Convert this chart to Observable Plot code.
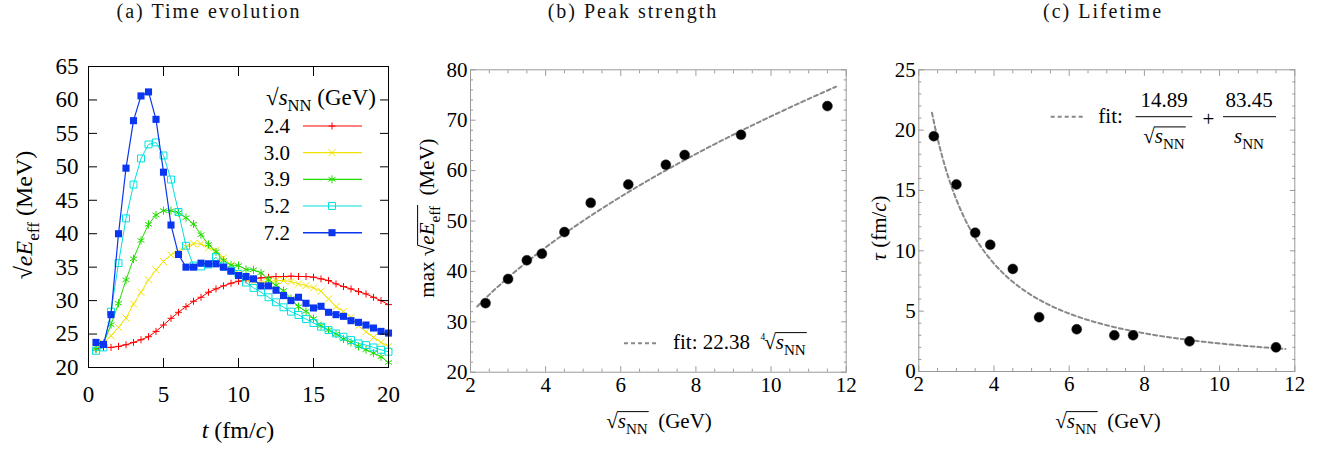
<!DOCTYPE html>
<html><head><meta charset="utf-8">
<script src="https://cdn.jsdelivr.net/npm/d3@7"></script>
<script src="https://cdn.jsdelivr.net/npm/@observablehq/plot@0.6"></script>
<style>
html,body{margin:0;padding:0;background:#fff;}
#root{position:relative;width:1334px;height:453px;overflow:hidden;font-family:"Liberation Serif","DejaVu Serif",serif;}
.title{position:absolute;top:0px;font-size:20px;letter-spacing:2px;transform:translateX(-50%);white-space:nowrap;color:#111;font-family:"Liberation Serif","DejaVu Serif",serif;}
.panel{position:absolute;top:0;}
#overlay{position:absolute;left:0;top:0;pointer-events:none;}
</style></head><body><div id="root"></div>
<script>
// ---------- data ----------
const tValues = [0.5,1,1.5,2,2.5,3,3.5,4,4.5,5,5.5,6,6.5,7,7.5,8,8.5,9,9.5,10,10.5,11,11.5,12,12.5,13,13.5,14,14.5,15,15.5,16,16.5,17,17.5,18,18.5,19,19.5,20];
const energies = ["2.4","3.0","3.9","5.2","7.2"];
const field24 = [22.75,23.0,23.0,23.15,23.4,23.75,24.15,24.6,25.4,26.35,27.35,28.25,29.1,29.9,30.5,31.25,31.75,32.2,32.6,32.9,33.1,33.25,33.4,33.5,33.6,33.6,33.65,33.6,33.6,33.5,33.25,33.0,32.5,32.1,31.75,31.35,31.0,30.5,30.0,29.4];
const field30 = [23.0,23.6,24.75,26.0,27.4,29.5,31.25,33.1,34.6,35.85,36.85,37.4,38.0,38.5,38.5,37.9,37.5,36.4,35.3,34.1,33.2,32.8,32.7,32.85,33.0,33.0,32.85,32.5,32.25,31.9,31.4,30.25,29.1,28.35,27.5,26.25,25.35,24.5,23.75,23.15];
const field39 = [22.75,23.6,26.4,29.6,33.1,36.25,39.0,41.4,42.8,43.45,43.45,43.15,42.4,41.45,39.85,38.4,37.3,36.0,35.3,35.25,34.65,34.6,34.15,33.1,32.3,31.5,30.3,29.1,28.4,27.3,26.25,25.6,25.0,24.25,23.75,23.15,22.65,22.15,21.6,20.75];
const field52 = [22.5,23.0,28.35,35.6,42.3,47.35,51.25,53.35,53.65,51.7,48.1,43.25,38.2,35.25,35.1,35.4,36.5,35.1,34.5,34.0,32.7,31.9,31.25,30.5,29.75,29.0,28.35,27.85,27.25,26.65,26.1,25.6,25.1,24.6,24.1,23.6,23.35,23.0,22.65,22.35];
const field72 = [23.75,23.45,27.9,40.0,49.8,56.9,60.6,61.2,57.1,49.2,41.3,36.9,35.0,35.0,35.6,35.5,35.5,35.0,34.4,33.75,33.6,33.25,32.2,32.2,31.55,30.75,30.0,30.5,29.6,28.9,29.15,28.25,27.9,27.65,27.0,26.75,26.35,25.9,25.4,25.15];
const fields = [field24, field30, field39, field52, field72];

const sqrtS = [2.4,3.0,3.5,3.9,4.5,5.2,6.2,7.2,7.7,9.2,11.5];
const maxField = [33.7,38.5,42.2,43.5,47.8,53.6,57.25,61.15,63.1,67.1,72.8];
const lifetime = [19.5,15.5,11.5,10.5,8.5,4.5,3.5,3.0,3.0,2.5,2.0];

const fitPeakCoef = 22.38;            // 22.38 * (s_NN)^(1/4)
const fitLifeCoefA = 14.89, fitLifeCoefB = 83.45; // 14.89/sqrt(s_NN) + 83.45/s_NN
const fitRangeB = [2.18, 11.73];
const fitRangeC = [2.35, 11.75];

const xTicksA = [0,5,10,15,20];
const yTicksA = [20,25,30,35,40,45,50,55,60,65];
const xTicksBC = [2,4,6,8,10,12];
const yTicksB = [20,30,40,50,60,70,80];
const yTicksC = [0,5,10,15,20,25];
const titles = ["(a) Time evolution","(b) Peak strength","(c) Lifetime"];

// ---------- styles ----------
const SERIF = "'Liberation Serif','DejaVu Serif',serif";
const NB = "\u00a0";
const colors = ["#ff0000","#f0e200","#22dd00","#00e0e0","#0a36f2"];
const symbols = ["plus","times","asterisk","square","square"];
const radii = [2.4,3.3,3.8,3.9,4.0];

const root = document.getElementById("root");

function ticksOnly(axis, anchor, ticks, size, stroke) {
  const o = {anchor, ticks, tickSize: size, fill: "none", stroke, label: null, strokeWidth: 1};
  if (axis === "x") { o.dy = anchor === "bottom" ? -size : size; return Plot.axisX(o); }
  o.dx = anchor === "left" ? size : -size; return Plot.axisY(o);
}

// ---------- panel A ----------
const rowsA = energies.flatMap((e, k) => tValues.map((t, i) => ({t, v: fields[k][i], e})));
const marksA = [];
energies.forEach((e, k) => {
  const d = rowsA.filter(r => r.e === e);
  marksA.push(Plot.line(d, {x: "t", y: "v", stroke: colors[k], strokeWidth: k === 4 ? 1.2 : 1}));
  if (k === 4) marksA.push(Plot.dot(d, {x: "t", y: "v", symbol: "square", r: radii[k], fill: colors[k], stroke: "none"}));
  else marksA.push(Plot.dot(d, {x: "t", y: "v", symbol: symbols[k], r: radii[k], fill: "none", stroke: colors[k], strokeWidth: 1}));
});
const plotA = Plot.plot({
  width: 400, height: 453,
  marginLeft: 88, marginRight: 12, marginTop: 66, marginBottom: 86,
  x: {domain: [0, 20]}, y: {domain: [20, 65]},
  style: {fontFamily: SERIF, fontSize: "23px", color: "black", background: "transparent", overflow: "visible"},
  marks: [
    ...marksA,
    Plot.frame({stroke: "black", strokeWidth: 1}),
    ticksOnly("x", "bottom", xTicksA, 9, "black"),
    ticksOnly("x", "top", xTicksA, 9, "black"),
    ticksOnly("y", "left", yTicksA, 9, "black"),
    ticksOnly("y", "right", yTicksA, 9, "black"),
    Plot.axisX({ticks: xTicksA, tickSize: 0, tickPadding: 18, label: null}),
    Plot.axisY({ticks: yTicksA, tickSize: 0, tickPadding: 10, label: null})
  ]
});
plotA.classList.add("panel"); plotA.style.left = "0px";
root.appendChild(plotA);

// ---------- panel B ----------
const minorX = d3.range(5, 24).filter(i => i % 4 !== 0).map(i => i / 2);
const minorYB = d3.range(22, 80, 2).filter(v => v % 10 !== 0);
const minorYC = d3.range(1, 25).filter(v => v % 5 !== 0);
const GRAY = "#9a9a9a";
const rowsB = sqrtS.map((s, i) => ({s, v: maxField[i]}));
const fitB = d3.range(fitRangeB[0], fitRangeB[1] + 1e-9, 0.05).map(s => ({s, v: fitPeakCoef * Math.sqrt(s)}));
function frameMarks(yMajor, yMinor) {
  return [
    Plot.frame({stroke: GRAY, strokeWidth: 1}),
    ticksOnly("x", "bottom", xTicksBC, 5.5, GRAY), ticksOnly("x", "top", xTicksBC, 5.5, GRAY),
    ticksOnly("x", "bottom", minorX, 3, GRAY), ticksOnly("x", "top", minorX, 3, GRAY),
    ticksOnly("y", "left", yMajor, 5.5, GRAY), ticksOnly("y", "right", yMajor, 5.5, GRAY),
    ticksOnly("y", "left", yMinor, 3, GRAY), ticksOnly("y", "right", yMinor, 3, GRAY),
    Plot.axisX({ticks: xTicksBC, tickSize: 0, tickPadding: 5, label: null}),
    Plot.axisY({ticks: yMajor, tickSize: 0, tickPadding: 3, label: null})
  ];
}
const plotB = Plot.plot({
  width: 460, height: 453,
  marginLeft: 70, marginRight: 14.3, marginTop: 69.3, marginBottom: 81.3,
  x: {domain: [2, 12]}, y: {domain: [20, 80]},
  style: {fontFamily: SERIF, fontSize: "21px", color: "black", background: "transparent", overflow: "visible"},
  marks: [
    Plot.line(fitB, {x: "s", y: "v", stroke: "#888", strokeWidth: 2, strokeDasharray: "4,3"}),
    Plot.dot(rowsB, {x: "s", y: "v", r: 5, fill: "#000", stroke: "#333", strokeWidth: 0.5}),
    ...frameMarks(yTicksB, minorYB)
  ]
});
plotB.classList.add("panel"); plotB.style.left = "400px";
root.appendChild(plotB);

// ---------- panel C ----------
const rowsC = sqrtS.map((s, i) => ({s, v: lifetime[i]}));
const fitC = d3.range(fitRangeC[0], fitRangeC[1] + 1e-9, 0.05).map(s => ({s, v: fitLifeCoefA / s + fitLifeCoefB / (s * s)}));
const plotC = Plot.plot({
  width: 474, height: 453,
  marginLeft: 58.3, marginRight: 39.7, marginTop: 69.3, marginBottom: 82,
  x: {domain: [2, 12]}, y: {domain: [0, 25]},
  style: {fontFamily: SERIF, fontSize: "21px", color: "black", background: "transparent", overflow: "visible"},
  marks: [
    Plot.line(fitC, {x: "s", y: "v", stroke: "#888", strokeWidth: 2, strokeDasharray: "4,3"}),
    Plot.dot(rowsC, {x: "s", y: "v", r: 5, fill: "#000", stroke: "#333", strokeWidth: 0.5}),
    ...frameMarks(yTicksC, minorYC)
  ]
});
plotC.classList.add("panel"); plotC.style.left = "860px";
root.appendChild(plotC);

// ---------- titles ----------
[209, 633, 1103].forEach((cx, i) => {
  const d = document.createElement("div");
  d.className = "title"; d.style.left = cx + "px"; d.textContent = titles[i];
  root.appendChild(d);
});

// ---------- overlay text (labels, legends) ----------
const ov = d3.select(root).append("svg").attr("id", "overlay").attr("width", 1334).attr("height", 453);

function richText(x, y, parts, {size = 21, anchor = "middle", rotate = 0} = {}) {
  const g = ov.append("g").attr("transform", `translate(${x},${y}) rotate(${rotate})`);
  const text = g.append("text").attr("text-anchor", anchor).attr("font-family", SERIF)
    .attr("font-size", size).attr("fill", "#000");
  let shift = 0, idx = 0; const ranges = [];
  for (const p of parts) {
    const ts = text.append("tspan").text(p.t);
    let target = 0, fs = size;
    if (p.sub) { target = size * 0.28; fs = size * 0.72; }
    if (p.sup) { target = -size * 0.45; fs = size * 0.45; }
    if (target !== shift) ts.attr("dy", target - shift);
    shift = target;
    if (fs !== size) ts.attr("font-size", fs);
    if (p.i) ts.attr("font-style", "italic");
    if (p.dx) ts.attr("dx", p.dx);
    if (p.o) ranges.push([idx, idx + p.t.length - 1]);
    idx += p.t.length;
  }
  if (ranges.length) {
    try {
      const node = text.node();
      const n = node.getNumberOfChars();
      const a = Math.min(ranges[0][0], n - 1), b = Math.min(ranges[ranges.length - 1][1], n - 1);
      const x0 = node.getStartPositionOfChar(a).x, x1 = node.getEndPositionOfChar(b).x;
      g.append("line").attr("x1", x0 - 0.5).attr("x2", x1 + 1)
        .attr("y1", -size * 0.78).attr("y2", -size * 0.78)
        .attr("stroke", "#000").attr("stroke-width", Math.max(1, size * 0.045));
    } catch (e) {}
  }
  return g;
}

// Panel A labels
richText(32, 215, [{t: "√"}, {t: "eE", i: true}, {t: "eff", sub: true}, {t: " (MeV)"}], {size: 24, rotate: -90});
richText(238, 438, [{t: "t", i: true}, {t: " (fm/"}, {t: "c", i: true}, {t: ")"}], {size: 24});
// Panel A legend
richText(376, 105, [{t: "√"}, {t: "s", i: true}, {t: "NN", sub: true}, {t: " (GeV)"}], {size: 23, anchor: "end"});
const symMap = {plus: d3.symbolPlus, times: d3.symbolTimes, asterisk: d3.symbolAsterisk, square: d3.symbolSquare};
energies.forEach((e, k) => {
  const cy = 126 + k * 26.67;
  richText(290, cy + 7, [{t: e}], {size: 21, anchor: "end"});
  ov.append("line").attr("x1", 303).attr("x2", 362).attr("y1", cy).attr("y2", cy)
    .attr("stroke", colors[k]).attr("stroke-width", k === 4 ? 1.6 : 1.2);
  const path = d3.symbol(symMap[symbols[k]], Math.PI * radii[k] * radii[k])();
  const p = ov.append("path").attr("d", path).attr("transform", `translate(332,${cy})`);
  if (k === 4) p.attr("fill", colors[k]);
  else p.attr("fill", "none").attr("stroke", colors[k]).attr("stroke-width", 1);
});

// Panel B labels
richText(434, 218, [{t: "max "}, {t: "√"}, {t: "eE", i: true, o: true}, {t: "eff", sub: true, o: true}, {t: NB + " (MeV)"}], {size: 21, rotate: -90});
richText(659, 428, [{t: "√"}, {t: "s", i: true, o: true}, {t: "NN", sub: true, o: true}, {t: NB + " (GeV)"}], {size: 21});
// Panel B legend
ov.append("line").attr("x1", 624).attr("x2", 657).attr("y1", 343.3).attr("y2", 343.3)
  .attr("stroke", "#888").attr("stroke-width", 2).attr("stroke-dasharray", "4,3");
richText(673, 349, [{t: "fit: 22.38" + NB + NB}, {t: "4", sup: true}, {t: "√", dx: -1}, {t: "s", i: true, o: true}, {t: "NN", sub: true, o: true}], {size: 21, anchor: "start"});

// Panel C labels
richText(886, 228, [{t: "τ", i: true}, {t: " (fm/"}, {t: "c", i: true}, {t: ")"}], {size: 21, rotate: -90});
richText(1108, 428, [{t: "√"}, {t: "s", i: true, o: true}, {t: "NN", sub: true, o: true}, {t: NB + " (GeV)"}], {size: 21});
// Panel C legend
ov.append("line").attr("x1", 1050.7).attr("x2", 1084).attr("y1", 116.7).attr("y2", 116.7)
  .attr("stroke", "#888").attr("stroke-width", 2).attr("stroke-dasharray", "4,3");
richText(1098.3, 123.3, [{t: "fit:"}], {size: 21, anchor: "start"});
richText(1164, 107.3, [{t: "14.89"}], {size: 21});
ov.append("line").attr("x1", 1135.6).attr("x2", 1192.3).attr("y1", 116.7).attr("y2", 116.7).attr("stroke", "#000").attr("stroke-width", 1);
richText(1164, 143.3, [{t: "√"}, {t: "s", i: true, o: true}, {t: "NN", sub: true, o: true}], {size: 21});
richText(1208.3, 126, [{t: "+"}], {size: 21});
richText(1249, 107.3, [{t: "83.45"}], {size: 21});
ov.append("line").attr("x1", 1223).attr("x2", 1276).attr("y1", 116.7).attr("y2", 116.7).attr("stroke", "#000").attr("stroke-width", 1);
richText(1249, 143.3, [{t: "s", i: true}, {t: "NN", sub: true}], {size: 21});
</script></body></html>
